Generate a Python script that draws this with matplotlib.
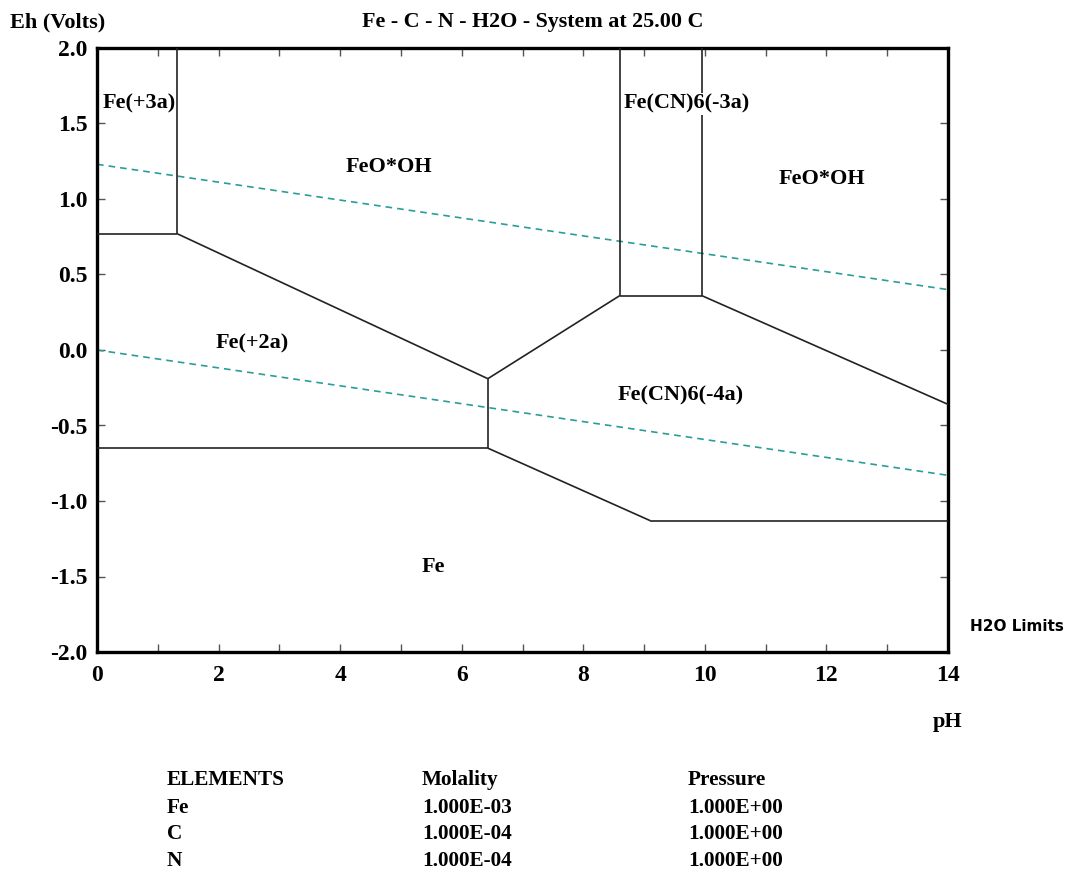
import matplotlib
matplotlib.use("Agg")
import matplotlib.pyplot as plt
import numpy as np

# ---- data ----
# boundary segments (pH list, Eh list)
seg_fe3_vert_ph = [1.32, 1.32]
seg_fe3_vert_eh = [2.0, 0.77]
seg_fe3_horiz_ph = [0.0, 1.32]
seg_fe3_horiz_eh = [0.77, 0.77]
seg_fe2_upper_ph = [1.32, 6.43]
seg_fe2_upper_eh = [0.77, -0.19]
seg_fe2_vert_ph = [6.43, 6.43]
seg_fe2_vert_eh = [-0.19, -0.65]
seg_fe2_lower_ph = [0.0, 6.43]
seg_fe2_lower_eh = [-0.65, -0.65]
seg_cn4_left_ph = [6.43, 8.60]
seg_cn4_left_eh = [-0.19, 0.36]
seg_cn3_base_ph = [8.60, 9.95]
seg_cn3_base_eh = [0.36, 0.36]
seg_cn3_left_ph = [8.60, 8.60]
seg_cn3_left_eh = [0.36, 2.0]
seg_cn3_right_ph = [9.95, 9.95]
seg_cn3_right_eh = [0.36, 2.0]
seg_cn4_right_ph = [9.95, 14.0]
seg_cn4_right_eh = [0.36, -0.36]
seg_fe_low1_ph = [6.43, 9.10]
seg_fe_low1_eh = [-0.65, -1.13]
seg_fe_low2_ph = [9.10, 14.0]
seg_fe_low2_eh = [-1.13, -1.13]

water_ph = [0.0, 14.0]
water_upper_eh = [1.23, 0.40]
water_lower_eh = [0.0, -0.83]

region_labels = ["Fe(+3a)", "FeO*OH", "Fe(CN)6(-3a)", "FeO*OH", "Fe(+2a)", "Fe(CN)6(-4a)", "Fe"]
region_ph = [0.70, 4.80, 9.70, 11.92, 2.55, 9.60, 5.53]
region_eh = [1.63, 1.21, 1.63, 1.13, 0.04, -0.30, -1.44]
region_masked = [False, False, True, False, False, False, False]

x_ticks = [0, 2, 4, 6, 8, 10, 12, 14]
y_ticks = [-2.0, -1.5, -1.0, -0.5, 0.0, 0.5, 1.0, 1.5, 2.0]

elements = ["Fe", "C", "N"]
molality = ["1.000E-03", "1.000E-04", "1.000E-04"]
pressure = ["1.000E+00", "1.000E+00", "1.000E+00"]

title = "Fe - C - N - H2O - System at 25.00 C"

# ---- plot ----
W, H = 1072, 871
fig = plt.figure(figsize=(W / 100, H / 100), dpi=100)
ax = fig.add_axes([97 / W, 1 - 652 / H, (948 - 97) / W, (652 - 48) / H])

serif = dict(family="Liberation Serif", weight="bold")

segs = [
    (seg_fe3_vert_ph, seg_fe3_vert_eh), (seg_fe3_horiz_ph, seg_fe3_horiz_eh),
    (seg_fe2_upper_ph, seg_fe2_upper_eh), (seg_fe2_vert_ph, seg_fe2_vert_eh),
    (seg_fe2_lower_ph, seg_fe2_lower_eh), (seg_cn4_left_ph, seg_cn4_left_eh),
    (seg_cn3_base_ph, seg_cn3_base_eh), (seg_cn3_left_ph, seg_cn3_left_eh),
    (seg_cn3_right_ph, seg_cn3_right_eh), (seg_cn4_right_ph, seg_cn4_right_eh),
    (seg_fe_low1_ph, seg_fe_low1_eh), (seg_fe_low2_ph, seg_fe_low2_eh),
]
for px, py in segs:
    ax.plot(px, py, color="#222222", lw=1.2, solid_capstyle="butt", zorder=3)

ax.plot(water_ph, water_upper_eh, color="#2a9d9a", lw=1.2, ls=(0, (4, 3)), zorder=2)
ax.plot(water_ph, water_lower_eh, color="#2a9d9a", lw=1.2, ls=(0, (4, 3)), zorder=2)

for lab, px, py, m in zip(region_labels, region_ph, region_eh, region_masked):
    bb = dict(facecolor="white", edgecolor="none", pad=0.5) if m else None
    ax.text(px, py, lab, ha="center", va="center", fontsize=16, zorder=5,
            bbox=bb, **serif)

ax.set_xlim(0, 14)
ax.set_ylim(-2, 2)
ax.set_xticks(x_ticks)
ax.set_xticks(np.arange(0, 15, 1), minor=True)
ax.set_yticks(y_ticks)
ax.set_xticklabels([str(t) for t in x_ticks], fontsize=17, **serif)
ax.set_yticklabels(["%.1f" % t for t in y_ticks], fontsize=17, **serif)
ax.tick_params(axis="both", which="both", direction="in", top=True, right=True,
               length=6, width=1, color="#555555")
ax.tick_params(axis="x", which="major", pad=9)
ax.tick_params(axis="y", which="major", pad=7)
for s in ax.spines.values():
    s.set_linewidth(2.4)
    s.set_color("black")

fig.text(10 / W, 1 - 22 / H, "Eh (Volts)", ha="left", va="center", fontsize=16, **serif)
fig.text(533 / W, 1 - 22 / H, title, ha="center", va="center", fontsize=15.8, **serif)
fig.text(948 / W, 1 - 722 / H, "pH", ha="center", va="center", fontsize=16, **serif)
fig.text(970 / W, 1 - 626 / H, "H2O Limits", ha="left", va="center", fontsize=11,
         family="DejaVu Sans", weight="bold")

col_x = [167, 422, 688]
fs_tab = 15.3
fig.text(col_x[0] / W, 1 - 780 / H, "ELEMENTS", ha="left", va="center", fontsize=fs_tab, **serif)
fig.text(col_x[1] / W, 1 - 780 / H, "Molality", ha="left", va="center", fontsize=fs_tab, **serif)
fig.text(col_x[2] / W, 1 - 780 / H, "Pressure", ha="left", va="center", fontsize=fs_tab, **serif)
row_y = [808, 834, 861]
for e, m, p, yy in zip(elements, molality, pressure, row_y):
    fig.text(col_x[0] / W, 1 - yy / H, e, ha="left", va="center", fontsize=fs_tab, **serif)
    fig.text(col_x[1] / W, 1 - yy / H, m, ha="left", va="center", fontsize=fs_tab, **serif)
    fig.text(col_x[2] / W, 1 - yy / H, p, ha="left", va="center", fontsize=fs_tab, **serif)

fig.savefig("out.png", dpi=100)
